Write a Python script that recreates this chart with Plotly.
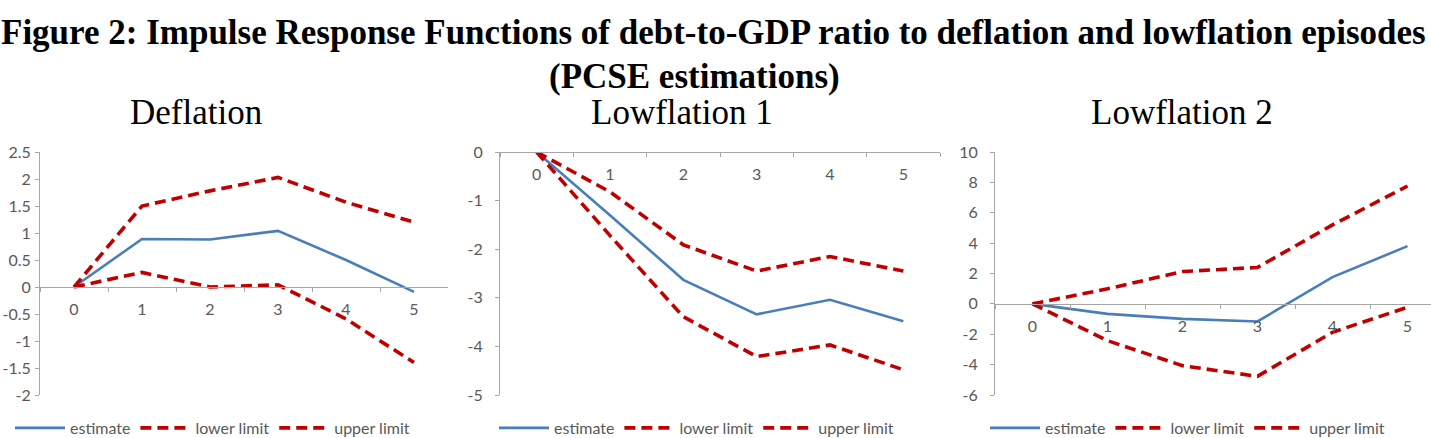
import plotly.graph_objects as go

# ---------------- data ----------------
periods = ["0", "1", "2", "3", "4", "5"]

defl_estimate = [0.0, 0.89, 0.88, 1.04, 0.50, -0.09]
defl_lower = [0.0, 0.27, 0.00, 0.04, -0.59, -1.40]
defl_upper = [0.0, 1.50, 1.78, 2.03, 1.57, 1.20]

low1_estimate = [0.0, -1.30, -2.63, -3.34, -3.04, -3.48]
low1_lower = [0.0, -1.72, -3.39, -4.21, -3.97, -4.48]
low1_upper = [0.0, -0.82, -1.91, -2.45, -2.15, -2.45]

low2_estimate = [0.0, -0.66, -0.99, -1.16, 1.76, 3.80]
low2_lower = [0.0, -2.42, -4.07, -4.77, -1.87, -0.22]
low2_upper = [0.0, 0.99, 2.13, 2.40, 5.20, 7.76]

defl_ytick_vals = [2.5, 2, 1.5, 1, 0.5, 0, -0.5, -1, -1.5, -2]
defl_ytick_text = ["2.5", "2", "1.5", "1", "0.5", "0", "-0.5", "-1", "-1.5", "-2"]
low1_ytick_vals = [0, -1, -2, -3, -4, -5]
low1_ytick_text = ["0", "-1", "-2", "-3", "-4", "-5"]
low2_ytick_vals = [10, 8, 6, 4, 2, 0, -2, -4, -6]
low2_ytick_text = ["10", "8", "6", "4", "2", "0", "-2", "-4", "-6"]

panel_titles = ["Deflation", "Lowflation 1", "Lowflation 2"]
series_names = ["estimate", "lower limit", "upper limit"]
main_title_1 = "Figure 2: Impulse Response Functions of debt-to-GDP ratio to deflation and lowflation episodes"
main_title_2 = "(PCSE estimations)"

y_ranges = [[-2, 2.5], [-5, 0], [-6, 10]]
y_ticks = [(defl_ytick_vals, defl_ytick_text), (low1_ytick_vals, low1_ytick_text),
           (low2_ytick_vals, low2_ytick_text)]

# ---------------- layout constants ----------------
W, H = 1431, 438
BLUE = "#4A7EBB"
RED = "#C00000"
AXIS = "#A6A6A6"
TXT = "#595959"
SANS = "Lato, 'Open Sans', sans-serif"
SERIF = "'Liberation Serif', 'Times New Roman', serif"

def px_x(p):
    return p / W

def px_y(p):
    return 1 - p / H

x_domains = [[px_x(40), px_x(448)], [px_x(500), px_x(940)], [px_x(995), 1.0]]
x_ranges = [[-0.5, 5.5], [-0.5, 5.5], [-0.5, -0.5 + (W - 995) / 75.0]]
y_domain = [px_y(395), px_y(152)]
y_standoff = [1, 9, 9]

fig = go.Figure()

panels = [
    (defl_estimate, defl_lower, defl_upper),
    (low1_estimate, low1_lower, low1_upper),
    (low2_estimate, low2_lower, low2_upper),
]

legend_keys = ["legend", "legend2", "legend3"]

for i, (est, lo, up) in enumerate(panels):
    sfx = "" if i == 0 else str(i + 1)
    xa, ya = "x" + sfx, "y" + sfx
    lg = legend_keys[i]
    fig.add_trace(go.Scatter(x=periods, y=est, mode="lines", name=series_names[0],
                             line=dict(color=BLUE, width=2.6), xaxis=xa, yaxis=ya,
                             legend=lg, hoverinfo="skip"))
    fig.add_trace(go.Scatter(x=periods, y=up, mode="lines", name=series_names[1],
                             line=dict(color=RED, width=3.6, dash="11px,6px"),
                             xaxis=xa, yaxis=ya, legend=lg, hoverinfo="skip"))
    fig.add_trace(go.Scatter(x=periods, y=lo, mode="lines", name=series_names[2],
                             line=dict(color=RED, width=3.6, dash="11px,6px"),
                             xaxis=xa, yaxis=ya, legend=lg, hoverinfo="skip"))

    r = y_ranges[i]
    frac0 = (0 - r[0]) / (r[1] - r[0])
    pos = y_domain[0] + frac0 * (y_domain[1] - y_domain[0])

    fig.layout["xaxis" + sfx] = dict(
        domain=x_domains[i], type="category", range=x_ranges[i],
        anchor="free", position=pos, showline=True, linecolor=AXIS, linewidth=1,
        ticks="outside", ticklen=4, tickcolor=AXIS, tickson="boundaries",
        showgrid=False, zeroline=False, ticklabelstandoff=8,
        tickfont=dict(family=SANS, size=16, color=TXT), fixedrange=True,
    )
    fig.layout["yaxis" + sfx] = dict(
        domain=y_domain, range=r, anchor=xa,
        tickmode="array", tickvals=y_ticks[i][0], ticktext=y_ticks[i][1],
        showline=True, linecolor=AXIS, linewidth=1, ticks="outside", ticklen=4,
        tickcolor=AXIS, showgrid=False, zeroline=False, ticklabelstandoff=y_standoff[i],
        tickfont=dict(family=SANS, size=16, color=TXT), fixedrange=True,
    )

legend_x = [px_x(10), px_x(494), px_x(985)]
for i, key in enumerate(legend_keys):
    fig.layout[key] = dict(
        orientation="h", x=legend_x[i], xanchor="left", y=px_y(428), yanchor="middle",
        font=dict(family=SANS, size=16, color=TXT), itemwidth=50,
        bgcolor="rgba(0,0,0,0)", traceorder="normal", tracegroupgap=0,
        itemclick=False, itemdoubleclick=False,
    )

annotations = [
    dict(text="<b>" + main_title_1 + "</b>", x=px_x(713), y=px_y(33), size=35),
    dict(text="<b>" + main_title_2 + "</b>", x=px_x(694), y=px_y(76), size=35),
    dict(text=panel_titles[0], x=px_x(196), y=px_y(112), size=35),
    dict(text=panel_titles[1], x=px_x(682), y=px_y(112), size=35),
    dict(text=panel_titles[2], x=px_x(1182), y=px_y(112), size=35),
]
for a in annotations:
    fig.add_annotation(text=a["text"], x=a["x"], y=a["y"], xref="paper", yref="paper",
                       xanchor="center", yanchor="middle", showarrow=False,
                       font=dict(family=SERIF, size=a["size"], color="black"))

fig.update_layout(
    width=W, height=H, margin=dict(l=0, r=0, t=0, b=0, autoexpand=False),
    paper_bgcolor="white", plot_bgcolor="white", showlegend=True,
)

fig.write_html("out.html", include_plotlyjs=True, config={"displayModeBar": False, "staticPlot": True})
